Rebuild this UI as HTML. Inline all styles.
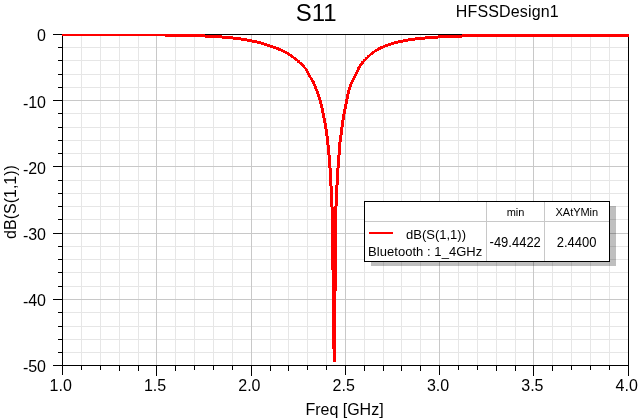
<!DOCTYPE html>
<html><head><meta charset="utf-8"><title>S11</title>
<style>
html,body{margin:0;padding:0;background:#fff;}
body{width:640px;height:420px;overflow:hidden;}
svg{display:block;}
text{font-family:"Liberation Sans",Arial,sans-serif;fill:#000;}
</style></head><body>
<svg width="640" height="420" viewBox="0 0 640 420">
<rect x="0" y="0" width="640" height="420" fill="#fff"/>
<g shape-rendering="crispEdges">
<rect x="81" y="35" width="1" height="330" fill="#e6e6e6"/>
<rect x="100" y="35" width="1" height="330" fill="#e6e6e6"/>
<rect x="119" y="35" width="1" height="330" fill="#e6e6e6"/>
<rect x="138" y="35" width="1" height="330" fill="#e6e6e6"/>
<rect x="175" y="35" width="1" height="330" fill="#e6e6e6"/>
<rect x="194" y="35" width="1" height="330" fill="#e6e6e6"/>
<rect x="213" y="35" width="1" height="330" fill="#e6e6e6"/>
<rect x="232" y="35" width="1" height="330" fill="#e6e6e6"/>
<rect x="270" y="35" width="1" height="330" fill="#e6e6e6"/>
<rect x="288" y="35" width="1" height="330" fill="#e6e6e6"/>
<rect x="307" y="35" width="1" height="330" fill="#e6e6e6"/>
<rect x="326" y="35" width="1" height="330" fill="#e6e6e6"/>
<rect x="364" y="35" width="1" height="330" fill="#e6e6e6"/>
<rect x="383" y="35" width="1" height="330" fill="#e6e6e6"/>
<rect x="401" y="35" width="1" height="330" fill="#e6e6e6"/>
<rect x="420" y="35" width="1" height="330" fill="#e6e6e6"/>
<rect x="458" y="35" width="1" height="330" fill="#e6e6e6"/>
<rect x="477" y="35" width="1" height="330" fill="#e6e6e6"/>
<rect x="496" y="35" width="1" height="330" fill="#e6e6e6"/>
<rect x="515" y="35" width="1" height="330" fill="#e6e6e6"/>
<rect x="552" y="35" width="1" height="330" fill="#e6e6e6"/>
<rect x="571" y="35" width="1" height="330" fill="#e6e6e6"/>
<rect x="590" y="35" width="1" height="330" fill="#e6e6e6"/>
<rect x="609" y="35" width="1" height="330" fill="#e6e6e6"/>
<rect x="63" y="47" width="565" height="1" fill="#e6e6e6"/>
<rect x="63" y="60" width="565" height="1" fill="#e6e6e6"/>
<rect x="63" y="74" width="565" height="1" fill="#e6e6e6"/>
<rect x="63" y="87" width="565" height="1" fill="#e6e6e6"/>
<rect x="63" y="113" width="565" height="1" fill="#e6e6e6"/>
<rect x="63" y="127" width="565" height="1" fill="#e6e6e6"/>
<rect x="63" y="140" width="565" height="1" fill="#e6e6e6"/>
<rect x="63" y="153" width="565" height="1" fill="#e6e6e6"/>
<rect x="63" y="180" width="565" height="1" fill="#e6e6e6"/>
<rect x="63" y="193" width="565" height="1" fill="#e6e6e6"/>
<rect x="63" y="206" width="565" height="1" fill="#e6e6e6"/>
<rect x="63" y="219" width="565" height="1" fill="#e6e6e6"/>
<rect x="63" y="246" width="565" height="1" fill="#e6e6e6"/>
<rect x="63" y="259" width="565" height="1" fill="#e6e6e6"/>
<rect x="63" y="272" width="565" height="1" fill="#e6e6e6"/>
<rect x="63" y="286" width="565" height="1" fill="#e6e6e6"/>
<rect x="63" y="312" width="565" height="1" fill="#e6e6e6"/>
<rect x="63" y="326" width="565" height="1" fill="#e6e6e6"/>
<rect x="63" y="339" width="565" height="1" fill="#e6e6e6"/>
<rect x="63" y="352" width="565" height="1" fill="#e6e6e6"/>
<rect x="156" y="35" width="1" height="330" fill="#c8c8c8"/>
<rect x="251" y="35" width="1" height="330" fill="#c8c8c8"/>
<rect x="345" y="35" width="1" height="330" fill="#c8c8c8"/>
<rect x="439" y="35" width="1" height="330" fill="#c8c8c8"/>
<rect x="533" y="35" width="1" height="330" fill="#c8c8c8"/>
<rect x="63" y="100" width="565" height="1" fill="#c8c8c8"/>
<rect x="63" y="166" width="565" height="1" fill="#c8c8c8"/>
<rect x="63" y="233" width="565" height="1" fill="#c8c8c8"/>
<rect x="63" y="299" width="565" height="1" fill="#c8c8c8"/>
</g>
<g shape-rendering="crispEdges">
<rect x="62" y="34" width="1" height="332" fill="#000"/>
<rect x="628" y="34" width="1" height="332" fill="#000"/>
<rect x="62" y="34" width="567" height="1" fill="#000"/>
<rect x="62" y="365" width="567" height="1" fill="#000"/>
<rect x="62" y="366" width="1" height="9" fill="#000"/>
<rect x="81" y="366" width="1" height="4" fill="#000"/>
<rect x="100" y="366" width="1" height="4" fill="#000"/>
<rect x="119" y="366" width="1" height="5" fill="#000"/>
<rect x="138" y="366" width="1" height="5" fill="#000"/>
<rect x="156" y="366" width="1" height="10" fill="#000"/>
<rect x="175" y="366" width="1" height="5" fill="#000"/>
<rect x="194" y="366" width="1" height="4" fill="#000"/>
<rect x="213" y="366" width="1" height="4" fill="#000"/>
<rect x="232" y="366" width="1" height="4" fill="#000"/>
<rect x="251" y="366" width="1" height="10" fill="#000"/>
<rect x="270" y="366" width="1" height="5" fill="#000"/>
<rect x="288" y="366" width="1" height="5" fill="#000"/>
<rect x="307" y="366" width="1" height="4" fill="#000"/>
<rect x="326" y="366" width="1" height="4" fill="#000"/>
<rect x="345" y="366" width="1" height="9" fill="#000"/>
<rect x="364" y="366" width="1" height="5" fill="#000"/>
<rect x="383" y="366" width="1" height="5" fill="#000"/>
<rect x="401" y="366" width="1" height="5" fill="#000"/>
<rect x="420" y="366" width="1" height="5" fill="#000"/>
<rect x="439" y="366" width="1" height="9" fill="#000"/>
<rect x="458" y="366" width="1" height="4" fill="#000"/>
<rect x="477" y="366" width="1" height="4" fill="#000"/>
<rect x="496" y="366" width="1" height="5" fill="#000"/>
<rect x="515" y="366" width="1" height="5" fill="#000"/>
<rect x="533" y="366" width="1" height="10" fill="#000"/>
<rect x="552" y="366" width="1" height="5" fill="#000"/>
<rect x="571" y="366" width="1" height="4" fill="#000"/>
<rect x="590" y="366" width="1" height="4" fill="#000"/>
<rect x="609" y="366" width="1" height="4" fill="#000"/>
<rect x="628" y="366" width="1" height="10" fill="#000"/>
<rect x="53" y="34" width="9" height="1" fill="#000"/>
<rect x="58" y="47" width="4" height="1" fill="#000"/>
<rect x="58" y="60" width="4" height="1" fill="#000"/>
<rect x="58" y="74" width="4" height="1" fill="#000"/>
<rect x="58" y="87" width="4" height="1" fill="#000"/>
<rect x="53" y="100" width="9" height="1" fill="#000"/>
<rect x="58" y="113" width="4" height="1" fill="#000"/>
<rect x="58" y="127" width="4" height="1" fill="#000"/>
<rect x="58" y="140" width="4" height="1" fill="#000"/>
<rect x="58" y="153" width="4" height="1" fill="#000"/>
<rect x="53" y="166" width="9" height="1" fill="#000"/>
<rect x="58" y="180" width="4" height="1" fill="#000"/>
<rect x="58" y="193" width="4" height="1" fill="#000"/>
<rect x="58" y="206" width="4" height="1" fill="#000"/>
<rect x="58" y="219" width="4" height="1" fill="#000"/>
<rect x="53" y="233" width="9" height="1" fill="#000"/>
<rect x="58" y="246" width="4" height="1" fill="#000"/>
<rect x="58" y="259" width="4" height="1" fill="#000"/>
<rect x="58" y="272" width="4" height="1" fill="#000"/>
<rect x="58" y="286" width="4" height="1" fill="#000"/>
<rect x="53" y="299" width="9" height="1" fill="#000"/>
<rect x="58" y="312" width="4" height="1" fill="#000"/>
<rect x="58" y="326" width="4" height="1" fill="#000"/>
<rect x="58" y="339" width="4" height="1" fill="#000"/>
<rect x="58" y="352" width="4" height="1" fill="#000"/>
<rect x="53" y="365" width="9" height="1" fill="#000"/>
</g>
<clipPath id="pc"><rect x="62" y="34" width="567" height="332"/></clipPath>
<path clip-path="url(#pc)" d="M62.00,33.00 L64.39,33.00 L64.39,36.00 L62.00,36.00ZM64.39,33.00 L66.27,33.00 L66.27,36.00 L64.39,36.00ZM66.27,33.00 L68.16,33.00 L68.16,36.00 L66.27,36.00ZM68.16,33.00 L70.05,33.00 L70.05,36.00 L68.16,36.00ZM70.05,33.00 L71.93,33.00 L71.93,36.00 L70.05,36.00ZM71.93,33.00 L73.82,33.00 L73.82,36.00 L71.93,36.00ZM73.82,33.00 L75.71,33.01 L75.71,36.01 L73.82,36.00ZM75.71,33.01 L77.59,33.01 L77.59,36.01 L75.71,36.01ZM77.59,33.01 L79.48,33.01 L79.48,36.01 L77.59,36.01ZM79.48,33.01 L81.37,33.01 L81.37,36.01 L79.48,36.01ZM81.37,33.01 L83.25,33.02 L83.25,36.02 L81.37,36.01ZM83.25,33.02 L85.14,33.02 L85.14,36.02 L83.25,36.02ZM85.14,33.02 L87.03,33.02 L87.03,36.02 L85.14,36.02ZM87.03,33.02 L88.91,33.02 L88.91,36.02 L87.03,36.02ZM88.91,33.02 L90.80,33.03 L90.80,36.03 L88.91,36.02ZM90.80,33.03 L92.69,33.03 L92.69,36.03 L90.80,36.03ZM92.69,33.03 L94.57,33.03 L94.57,36.03 L92.69,36.03ZM94.57,33.03 L96.46,33.04 L96.46,36.04 L94.57,36.03ZM96.46,33.04 L98.35,33.04 L98.35,36.04 L96.46,36.04ZM98.35,33.04 L100.23,33.05 L100.23,36.05 L98.35,36.04ZM100.23,33.05 L102.12,33.05 L102.12,36.05 L100.23,36.05ZM102.12,33.05 L104.01,33.06 L104.01,36.06 L102.12,36.05ZM104.01,33.06 L105.89,33.06 L105.89,36.06 L104.01,36.06ZM105.89,33.06 L107.78,33.07 L107.78,36.07 L105.89,36.06ZM107.78,33.07 L109.67,33.07 L109.67,36.07 L107.78,36.07ZM109.67,33.07 L111.55,33.08 L111.55,36.08 L109.67,36.07ZM111.55,33.08 L113.44,33.08 L113.44,36.08 L111.55,36.08ZM113.44,33.08 L115.33,33.09 L115.33,36.09 L113.44,36.08ZM115.33,33.09 L117.21,33.09 L117.21,36.09 L115.33,36.09ZM117.21,33.09 L119.10,33.10 L119.10,36.10 L117.21,36.09ZM119.10,33.10 L120.99,33.10 L120.99,36.10 L119.10,36.10ZM120.99,33.10 L122.87,33.11 L122.87,36.11 L120.99,36.10ZM122.87,33.11 L124.76,33.12 L124.76,36.12 L122.87,36.11ZM124.76,33.12 L126.65,33.13 L126.65,36.13 L124.76,36.12ZM126.65,33.13 L128.53,33.14 L128.53,36.14 L126.65,36.13ZM128.53,33.14 L130.42,33.15 L130.42,36.15 L128.53,36.14ZM130.42,33.15 L132.31,33.16 L132.31,36.16 L130.42,36.15ZM132.31,33.16 L134.19,33.17 L134.19,36.17 L132.31,36.16ZM134.19,33.17 L136.08,33.19 L136.08,36.19 L134.19,36.17ZM136.08,33.19 L137.97,33.20 L137.97,36.20 L136.08,36.19ZM137.97,33.20 L139.85,33.22 L139.85,36.22 L137.97,36.20ZM139.85,33.22 L141.74,33.24 L141.74,36.24 L139.85,36.22ZM141.74,33.24 L143.63,33.25 L143.63,36.25 L141.74,36.24ZM143.63,33.25 L145.51,33.27 L145.51,36.27 L143.63,36.25ZM145.51,33.27 L147.40,33.29 L147.40,36.29 L145.51,36.27ZM147.40,33.29 L149.29,33.31 L149.29,36.31 L147.40,36.29ZM149.29,33.31 L151.17,33.33 L151.17,36.33 L149.29,36.31ZM151.17,33.33 L153.06,33.35 L153.06,36.35 L151.17,36.33ZM153.06,33.35 L154.95,33.37 L154.95,36.37 L153.06,36.35ZM154.95,33.37 L156.83,33.40 L156.83,36.40 L154.95,36.37ZM156.83,33.40 L158.72,33.42 L158.72,36.42 L156.83,36.40ZM158.72,33.42 L160.61,33.44 L160.61,36.44 L158.72,36.42ZM160.61,33.44 L162.49,33.47 L162.49,36.47 L160.61,36.44ZM162.49,33.47 L164.38,33.49 L164.38,36.49 L162.49,36.47ZM164.38,33.49 L166.27,33.52 L166.27,36.52 L164.38,36.49ZM166.27,33.52 L168.15,33.54 L168.15,36.54 L166.27,36.52ZM168.15,33.54 L170.04,33.57 L170.04,36.57 L168.15,36.54ZM170.04,33.57 L171.93,33.61 L171.93,36.61 L170.04,36.57ZM171.93,33.61 L173.81,33.64 L173.81,36.64 L171.93,36.61ZM173.81,33.64 L175.70,33.67 L175.70,36.67 L173.81,36.64ZM175.70,33.67 L177.59,33.71 L177.59,36.71 L175.70,36.67ZM177.59,33.71 L179.47,33.75 L179.47,36.75 L177.59,36.71ZM179.47,33.75 L181.36,33.79 L181.36,36.79 L179.47,36.75ZM181.36,33.79 L183.25,33.84 L183.25,36.84 L181.36,36.79ZM183.25,33.84 L185.13,33.88 L185.13,36.88 L183.25,36.84ZM185.13,33.88 L187.02,33.93 L187.02,36.93 L185.13,36.88ZM187.02,33.93 L188.91,33.98 L188.91,36.98 L187.02,36.93ZM188.91,33.98 L190.79,34.04 L190.79,37.04 L188.91,36.98ZM190.79,34.04 L192.68,34.09 L192.68,37.09 L190.79,37.04ZM192.68,34.09 L194.57,34.15 L194.57,37.15 L192.68,37.09ZM194.57,34.15 L196.45,34.21 L196.45,37.21 L194.57,37.15ZM196.45,34.21 L198.34,34.27 L198.34,37.27 L196.45,37.21ZM198.34,34.27 L200.23,34.33 L200.23,37.33 L198.34,37.27ZM200.23,34.33 L202.11,34.40 L202.11,37.40 L200.23,37.33ZM202.11,34.40 L204.00,34.46 L204.00,37.46 L202.11,37.40ZM204.00,34.46 L205.89,34.54 L205.89,37.54 L204.00,37.46ZM205.89,34.54 L207.77,34.62 L207.77,37.62 L205.89,37.54ZM207.77,34.62 L209.66,34.72 L209.66,37.72 L207.77,37.62ZM209.66,34.72 L211.55,34.81 L211.55,37.81 L209.66,37.72ZM211.55,34.81 L213.43,34.92 L213.43,37.92 L211.55,37.81ZM213.43,34.92 L215.32,35.03 L215.32,38.03 L213.43,37.92ZM215.32,35.03 L217.21,35.15 L217.21,38.15 L215.32,38.03ZM217.21,35.15 L219.09,35.28 L219.09,38.28 L217.21,38.15ZM219.09,35.28 L220.98,35.41 L220.98,38.41 L219.09,38.28ZM220.98,35.41 L222.87,35.56 L222.87,38.56 L220.98,38.41ZM222.87,35.56 L224.75,35.71 L224.75,38.71 L222.87,38.56ZM224.75,35.71 L226.64,35.87 L226.64,38.87 L224.75,38.71ZM226.64,35.87 L228.53,36.05 L228.53,39.05 L226.64,38.87ZM228.53,36.05 L230.41,36.24 L230.41,39.24 L228.53,39.05ZM230.41,36.24 L232.30,36.44 L232.30,39.44 L230.41,39.24ZM232.30,36.44 L234.19,36.65 L234.19,39.65 L232.30,39.44ZM234.19,36.65 L236.07,36.88 L236.07,39.88 L234.19,39.65ZM236.07,36.88 L237.96,37.12 L237.96,40.12 L236.07,39.88ZM237.96,37.12 L239.85,37.37 L239.85,40.37 L237.96,40.12ZM239.85,37.37 L241.73,37.64 L241.73,40.64 L239.85,40.37ZM241.73,37.64 L243.62,37.93 L243.62,40.93 L241.73,40.64ZM243.62,37.93 L245.51,38.23 L245.51,41.23 L243.62,40.93ZM245.51,38.23 L247.39,38.56 L247.39,41.56 L245.51,41.23ZM247.39,38.56 L249.28,38.90 L249.28,41.90 L247.39,41.56ZM249.28,38.90 L251.17,39.26 L251.17,42.26 L249.28,41.90ZM251.17,39.26 L253.05,39.64 L253.05,42.64 L251.17,42.26ZM253.05,39.64 L254.94,40.04 L254.94,43.04 L253.05,42.64ZM254.94,40.04 L256.83,40.47 L256.83,43.47 L254.94,43.04ZM256.83,40.47 L258.71,40.94 L258.71,43.94 L256.83,43.47ZM258.71,40.94 L260.60,41.45 L260.60,44.45 L258.71,43.94ZM260.60,41.45 L262.49,42.00 L262.49,45.00 L260.60,44.45ZM262.49,42.00 L264.37,42.61 L264.37,45.61 L262.49,45.00ZM264.37,42.61 L266.26,43.23 L266.26,46.23 L264.37,45.61ZM266.26,43.23 L268.15,43.87 L268.15,46.87 L266.26,46.23ZM268.15,43.87 L270.03,44.51 L270.03,47.51 L268.15,46.87ZM270.03,44.51 L271.92,45.15 L271.92,48.15 L270.03,47.51ZM271.92,45.15 L273.81,45.81 L273.81,48.81 L271.92,48.15ZM273.81,45.81 L275.69,46.48 L275.69,49.48 L273.81,48.81ZM275.69,46.48 L277.58,47.18 L277.58,50.18 L275.69,49.48ZM277.58,47.18 L279.47,47.92 L279.47,50.92 L277.58,50.18ZM279.47,47.92 L281.35,48.72 L281.35,51.72 L279.47,50.92ZM281.35,48.72 L283.24,49.58 L283.24,52.58 L281.35,51.72ZM283.24,49.58 L285.13,50.51 L285.13,53.51 L283.24,52.58ZM285.13,50.51 L287.01,51.55 L287.01,54.55 L285.13,53.51ZM287.01,51.55 L288.90,52.71 L288.90,55.71 L287.01,54.55ZM288.90,52.71 L290.79,53.98 L290.79,56.98 L288.90,55.71ZM290.79,53.98 L292.67,55.34 L292.67,58.34 L290.79,56.98ZM292.67,55.34 L294.56,56.78 L294.56,59.78 L292.67,58.34ZM294.56,56.78 L296.45,58.29 L296.45,61.29 L294.56,59.78ZM296.45,58.29 L298.33,59.85 L298.33,62.85 L296.45,61.29ZM298.33,59.85 L300.22,61.44 L300.22,64.44 L298.33,62.85ZM300.22,61.44 L302.11,63.07 L302.11,66.07 L300.22,64.44ZM303.61,64.57 L305.49,66.50 L302.49,66.50 L300.61,64.57ZM305.49,66.50 L307.38,69.07 L304.38,69.07 L302.49,66.50ZM307.38,69.07 L309.27,72.62 L306.27,72.62 L304.38,69.07ZM309.27,72.62 L311.15,76.17 L308.15,76.17 L306.27,72.62ZM311.15,76.17 L313.04,79.03 L310.04,79.03 L308.15,76.17ZM313.04,79.03 L314.93,82.41 L311.93,82.41 L310.04,79.03ZM314.93,82.41 L316.81,86.66 L313.81,86.66 L311.93,82.41ZM316.81,86.66 L318.70,91.65 L315.70,91.65 L313.81,86.66ZM318.70,91.65 L320.59,97.25 L317.59,97.25 L315.70,91.65ZM320.59,97.25 L322.47,103.58 L319.47,103.58 L317.59,97.25ZM322.47,103.58 L324.36,111.99 L321.36,111.99 L319.47,103.58ZM324.36,111.99 L326.25,121.56 L323.25,121.56 L321.36,111.99ZM326.25,121.56 L328.13,132.90 L325.13,132.90 L323.25,121.56ZM328.13,132.90 L330.02,149.20 L327.02,149.20 L325.13,132.90ZM330.02,149.20 L331.91,173.00 L328.91,173.00 L327.02,149.20ZM331.91,173.00 L333.79,213.00 L330.79,213.00 L328.91,173.00ZM333.79,213.00 L335.68,361.80 L332.68,361.80 L330.79,213.00ZM332.68,361.80 L334.57,202.00 L337.57,202.00 L335.68,361.80ZM334.57,202.00 L336.45,168.50 L339.45,168.50 L337.57,202.00ZM336.45,168.50 L338.34,143.80 L341.34,143.80 L339.45,168.50ZM338.34,143.80 L340.23,129.00 L343.23,129.00 L341.34,143.80ZM340.23,129.00 L342.11,116.40 L345.11,116.40 L343.23,129.00ZM342.11,116.40 L344.00,106.60 L347.00,106.60 L345.11,116.40ZM344.00,106.60 L345.89,96.65 L348.89,96.65 L347.00,106.60ZM345.89,96.65 L347.77,89.22 L350.77,89.22 L348.89,96.65ZM347.77,89.22 L349.66,83.81 L352.66,83.81 L350.77,89.22ZM349.66,83.81 L351.55,79.59 L354.55,79.59 L352.66,83.81ZM351.55,79.59 L353.43,75.87 L356.43,75.87 L354.55,79.59ZM353.43,75.87 L355.32,72.11 L358.32,72.11 L356.43,75.87ZM355.32,72.11 L357.21,68.39 L360.21,68.39 L358.32,72.11ZM357.21,68.39 L359.09,65.19 L362.09,65.19 L360.21,68.39ZM359.09,65.19 L360.98,62.62 L363.98,62.62 L362.09,65.19ZM360.98,62.62 L362.87,60.43 L365.87,60.43 L363.98,62.62ZM362.87,60.43 L364.75,58.45 L367.75,58.45 L365.87,60.43ZM366.25,56.95 L368.14,55.13 L368.14,58.13 L366.25,59.95ZM368.14,55.13 L370.03,53.47 L370.03,56.47 L368.14,58.13ZM370.03,53.47 L371.91,51.96 L371.91,54.96 L370.03,56.47ZM371.91,51.96 L373.80,50.60 L373.80,53.60 L371.91,54.96ZM373.80,50.60 L375.69,49.38 L375.69,52.38 L373.80,53.60ZM375.69,49.38 L377.57,48.28 L377.57,51.28 L375.69,52.38ZM377.57,48.28 L379.46,46.99 L379.46,49.99 L377.57,51.28ZM379.46,46.99 L381.35,45.97 L381.35,48.97 L379.46,49.99ZM381.35,45.97 L383.23,45.31 L383.23,48.31 L381.35,48.97ZM383.23,45.31 L385.12,44.56 L385.12,47.56 L383.23,48.31ZM385.12,44.56 L387.01,43.83 L387.01,46.83 L385.12,47.56ZM387.01,43.83 L388.89,43.15 L388.89,46.15 L387.01,46.83ZM388.89,43.15 L390.78,42.52 L390.78,45.52 L388.89,46.15ZM390.78,42.52 L392.67,41.94 L392.67,44.94 L390.78,45.52ZM392.67,41.94 L394.55,41.40 L394.55,44.40 L392.67,44.94ZM394.55,41.40 L396.44,40.90 L396.44,43.90 L394.55,44.40ZM396.44,40.90 L398.33,40.43 L398.33,43.43 L396.44,43.90ZM398.33,40.43 L400.21,40.01 L400.21,43.01 L398.33,43.43ZM400.21,40.01 L402.10,39.61 L402.10,42.61 L400.21,43.01ZM402.10,39.61 L403.99,39.24 L403.99,42.24 L402.10,42.61ZM403.99,39.24 L405.87,38.90 L405.87,41.90 L403.99,42.24ZM405.87,38.90 L407.76,38.58 L407.76,41.58 L405.87,41.90ZM407.76,38.58 L409.65,38.28 L409.65,41.28 L407.76,41.58ZM409.65,38.28 L411.53,38.00 L411.53,41.00 L409.65,41.28ZM411.53,38.00 L413.42,37.74 L413.42,40.74 L411.53,41.00ZM413.42,37.74 L415.31,37.50 L415.31,40.50 L413.42,40.74ZM415.31,37.50 L417.19,37.27 L417.19,40.27 L415.31,40.50ZM417.19,37.27 L419.08,37.05 L419.08,40.05 L417.19,40.27ZM419.08,37.05 L420.97,36.85 L420.97,39.85 L419.08,40.05ZM420.97,36.85 L422.85,36.67 L422.85,39.67 L420.97,39.85ZM422.85,36.67 L424.74,36.49 L424.74,39.49 L422.85,39.67ZM424.74,36.49 L426.63,36.32 L426.63,39.32 L424.74,39.49ZM426.63,36.32 L428.51,36.17 L428.51,39.17 L426.63,39.32ZM428.51,36.17 L430.40,36.02 L430.40,39.02 L428.51,39.17ZM430.40,36.02 L432.29,35.88 L432.29,38.88 L430.40,39.02ZM432.29,35.88 L434.17,35.75 L434.17,38.75 L432.29,38.88ZM434.17,35.75 L436.06,35.63 L436.06,38.63 L434.17,38.75ZM436.06,35.63 L437.95,35.51 L437.95,38.51 L436.06,38.63ZM437.95,35.51 L439.83,35.40 L439.83,38.40 L437.95,38.51ZM439.83,35.40 L441.72,35.30 L441.72,38.30 L439.83,38.40ZM441.72,35.30 L443.61,35.20 L443.61,38.20 L441.72,38.30ZM443.61,35.20 L445.49,35.11 L445.49,38.11 L443.61,38.20ZM445.49,35.11 L447.38,35.03 L447.38,38.03 L445.49,38.11ZM447.38,35.03 L449.27,34.95 L449.27,37.95 L447.38,38.03ZM449.27,34.95 L451.15,34.87 L451.15,37.87 L449.27,37.95ZM451.15,34.87 L453.04,34.80 L453.04,37.80 L451.15,37.87ZM453.04,34.80 L454.93,34.73 L454.93,37.73 L453.04,37.80ZM454.93,34.73 L456.81,34.66 L456.81,37.66 L454.93,37.73ZM456.81,34.66 L458.70,34.60 L458.70,37.60 L456.81,37.66ZM458.70,34.60 L460.59,34.54 L460.59,37.54 L458.70,37.60ZM460.59,34.54 L462.47,34.50 L462.47,37.50 L460.59,37.54ZM462.47,34.50 L464.36,34.48 L464.36,37.48 L462.47,37.50ZM464.36,34.48 L466.25,34.46 L466.25,37.46 L464.36,37.48ZM466.25,34.46 L468.13,34.44 L468.13,37.44 L466.25,37.46ZM468.13,34.44 L470.02,34.42 L470.02,37.42 L468.13,37.44ZM470.02,34.42 L471.91,34.40 L471.91,37.40 L470.02,37.42ZM471.91,34.40 L473.79,34.39 L473.79,37.39 L471.91,37.40ZM473.79,34.39 L475.68,34.37 L475.68,37.37 L473.79,37.39ZM475.68,34.37 L477.57,34.36 L477.57,37.36 L475.68,37.37ZM477.57,34.36 L479.45,34.34 L479.45,37.34 L477.57,37.36ZM479.45,34.34 L481.34,34.33 L481.34,37.33 L479.45,37.34ZM481.34,34.33 L483.23,34.32 L483.23,37.32 L481.34,37.33ZM483.23,34.32 L485.11,34.30 L485.11,37.30 L483.23,37.32ZM485.11,34.30 L487.00,34.29 L487.00,37.29 L485.11,37.30ZM487.00,34.29 L488.89,34.28 L488.89,37.28 L487.00,37.29ZM488.89,34.28 L490.77,34.27 L490.77,37.27 L488.89,37.28ZM490.77,34.27 L492.66,34.26 L492.66,37.26 L490.77,37.27ZM492.66,34.26 L494.55,34.25 L494.55,37.25 L492.66,37.26ZM494.55,34.25 L496.43,34.24 L496.43,37.24 L494.55,37.25ZM496.43,34.24 L498.32,34.23 L498.32,37.23 L496.43,37.24ZM498.32,34.23 L500.21,34.22 L500.21,37.22 L498.32,37.23ZM500.21,34.22 L502.09,34.21 L502.09,37.21 L500.21,37.22ZM502.09,34.21 L503.98,34.20 L503.98,37.20 L502.09,37.21ZM503.98,34.20 L505.87,34.19 L505.87,37.19 L503.98,37.20ZM505.87,34.19 L507.75,34.19 L507.75,37.19 L505.87,37.19ZM507.75,34.19 L509.64,34.18 L509.64,37.18 L507.75,37.19ZM509.64,34.18 L511.53,34.17 L511.53,37.17 L509.64,37.18ZM511.53,34.17 L513.41,34.17 L513.41,37.17 L511.53,37.17ZM513.41,34.17 L515.30,34.16 L515.30,37.16 L513.41,37.17ZM515.30,34.16 L517.19,34.15 L517.19,37.15 L515.30,37.16ZM517.19,34.15 L519.07,34.15 L519.07,37.15 L517.19,37.15ZM519.07,34.15 L520.96,34.14 L520.96,37.14 L519.07,37.15ZM520.96,34.14 L522.85,34.14 L522.85,37.14 L520.96,37.14ZM522.85,34.14 L524.73,34.13 L524.73,37.13 L522.85,37.14ZM524.73,34.13 L526.62,34.13 L526.62,37.13 L524.73,37.13ZM526.62,34.13 L528.51,34.12 L528.51,37.12 L526.62,37.13ZM528.51,34.12 L530.39,34.12 L530.39,37.12 L528.51,37.12ZM530.39,34.12 L532.28,34.12 L532.28,37.12 L530.39,37.12ZM532.28,34.12 L534.17,34.11 L534.17,37.11 L532.28,37.12ZM534.17,34.11 L536.05,34.11 L536.05,37.11 L534.17,37.11ZM536.05,34.11 L537.94,34.10 L537.94,37.10 L536.05,37.11ZM537.94,34.10 L539.83,34.10 L539.83,37.10 L537.94,37.10ZM539.83,34.10 L541.71,34.10 L541.71,37.10 L539.83,37.10ZM541.71,34.10 L543.60,34.09 L543.60,37.09 L541.71,37.10ZM543.60,34.09 L545.49,34.09 L545.49,37.09 L543.60,37.09ZM545.49,34.09 L547.37,34.09 L547.37,37.09 L545.49,37.09ZM547.37,34.09 L549.26,34.08 L549.26,37.08 L547.37,37.09ZM549.26,34.08 L551.15,34.08 L551.15,37.08 L549.26,37.08ZM551.15,34.08 L553.03,34.08 L553.03,37.08 L551.15,37.08ZM553.03,34.08 L554.92,34.07 L554.92,37.07 L553.03,37.08ZM554.92,34.07 L556.81,34.07 L556.81,37.07 L554.92,37.07ZM556.81,34.07 L558.69,34.07 L558.69,37.07 L556.81,37.07ZM558.69,34.07 L560.58,34.06 L560.58,37.06 L558.69,37.07ZM560.58,34.06 L562.47,34.06 L562.47,37.06 L560.58,37.06ZM562.47,34.06 L564.35,34.06 L564.35,37.06 L562.47,37.06ZM564.35,34.06 L566.24,34.05 L566.24,37.05 L564.35,37.06ZM566.24,34.05 L568.13,34.05 L568.13,37.05 L566.24,37.05ZM568.13,34.05 L570.01,34.05 L570.01,37.05 L568.13,37.05ZM570.01,34.05 L571.90,34.05 L571.90,37.05 L570.01,37.05ZM571.90,34.05 L573.79,34.04 L573.79,37.04 L571.90,37.05ZM573.79,34.04 L575.67,34.04 L575.67,37.04 L573.79,37.04ZM575.67,34.04 L577.56,34.04 L577.56,37.04 L575.67,37.04ZM577.56,34.04 L579.45,34.04 L579.45,37.04 L577.56,37.04ZM579.45,34.04 L581.33,34.03 L581.33,37.03 L579.45,37.04ZM581.33,34.03 L583.22,34.03 L583.22,37.03 L581.33,37.03ZM583.22,34.03 L585.11,34.03 L585.11,37.03 L583.22,37.03ZM585.11,34.03 L586.99,34.03 L586.99,37.03 L585.11,37.03ZM586.99,34.03 L588.88,34.02 L588.88,37.02 L586.99,37.03ZM588.88,34.02 L590.77,34.02 L590.77,37.02 L588.88,37.02ZM590.77,34.02 L592.65,34.02 L592.65,37.02 L590.77,37.02ZM592.65,34.02 L594.54,34.02 L594.54,37.02 L592.65,37.02ZM594.54,34.02 L596.43,34.02 L596.43,37.02 L594.54,37.02ZM596.43,34.02 L598.31,34.01 L598.31,37.01 L596.43,37.02ZM598.31,34.01 L600.20,34.01 L600.20,37.01 L598.31,37.01ZM600.20,34.01 L602.09,34.01 L602.09,37.01 L600.20,37.01ZM602.09,34.01 L603.97,34.01 L603.97,37.01 L602.09,37.01ZM603.97,34.01 L605.86,34.01 L605.86,37.01 L603.97,37.01ZM605.86,34.01 L607.75,34.01 L607.75,37.01 L605.86,37.01ZM607.75,34.01 L609.63,34.01 L609.63,37.01 L607.75,37.01ZM609.63,34.01 L611.52,34.00 L611.52,37.00 L609.63,37.01ZM611.52,34.00 L613.41,34.00 L613.41,37.00 L611.52,37.00ZM613.41,34.00 L615.29,34.00 L615.29,37.00 L613.41,37.00ZM615.29,34.00 L617.18,34.00 L617.18,37.00 L615.29,37.00ZM617.18,34.00 L619.07,34.00 L619.07,37.00 L617.18,37.00ZM619.07,34.00 L620.95,34.00 L620.95,37.00 L619.07,37.00ZM620.95,34.00 L622.84,34.00 L622.84,37.00 L620.95,37.00ZM622.84,34.00 L624.73,34.00 L624.73,37.00 L622.84,37.00ZM624.73,34.00 L626.61,34.00 L626.61,37.00 L624.73,37.00ZM626.61,34.00 L628.50,34.00 L628.50,37.00 L626.61,37.00ZM62.89,34.50a1.5,1.5 0 1,1 3.00,0a1.5,1.5 0 1,1 -3.00,0ZM64.77,34.50a1.5,1.5 0 1,1 3.00,0a1.5,1.5 0 1,1 -3.00,0ZM66.66,34.50a1.5,1.5 0 1,1 3.00,0a1.5,1.5 0 1,1 -3.00,0ZM68.55,34.50a1.5,1.5 0 1,1 3.00,0a1.5,1.5 0 1,1 -3.00,0ZM70.43,34.50a1.5,1.5 0 1,1 3.00,0a1.5,1.5 0 1,1 -3.00,0ZM72.32,34.50a1.5,1.5 0 1,1 3.00,0a1.5,1.5 0 1,1 -3.00,0ZM74.21,34.51a1.5,1.5 0 1,1 3.00,0a1.5,1.5 0 1,1 -3.00,0ZM76.09,34.51a1.5,1.5 0 1,1 3.00,0a1.5,1.5 0 1,1 -3.00,0ZM77.98,34.51a1.5,1.5 0 1,1 3.00,0a1.5,1.5 0 1,1 -3.00,0ZM79.87,34.51a1.5,1.5 0 1,1 3.00,0a1.5,1.5 0 1,1 -3.00,0ZM81.75,34.52a1.5,1.5 0 1,1 3.00,0a1.5,1.5 0 1,1 -3.00,0ZM83.64,34.52a1.5,1.5 0 1,1 3.00,0a1.5,1.5 0 1,1 -3.00,0ZM85.53,34.52a1.5,1.5 0 1,1 3.00,0a1.5,1.5 0 1,1 -3.00,0ZM87.41,34.52a1.5,1.5 0 1,1 3.00,0a1.5,1.5 0 1,1 -3.00,0ZM89.30,34.53a1.5,1.5 0 1,1 3.00,0a1.5,1.5 0 1,1 -3.00,0ZM91.19,34.53a1.5,1.5 0 1,1 3.00,0a1.5,1.5 0 1,1 -3.00,0ZM93.07,34.53a1.5,1.5 0 1,1 3.00,0a1.5,1.5 0 1,1 -3.00,0ZM94.96,34.54a1.5,1.5 0 1,1 3.00,0a1.5,1.5 0 1,1 -3.00,0ZM96.85,34.54a1.5,1.5 0 1,1 3.00,0a1.5,1.5 0 1,1 -3.00,0ZM98.73,34.55a1.5,1.5 0 1,1 3.00,0a1.5,1.5 0 1,1 -3.00,0ZM100.62,34.55a1.5,1.5 0 1,1 3.00,0a1.5,1.5 0 1,1 -3.00,0ZM102.51,34.56a1.5,1.5 0 1,1 3.00,0a1.5,1.5 0 1,1 -3.00,0ZM104.39,34.56a1.5,1.5 0 1,1 3.00,0a1.5,1.5 0 1,1 -3.00,0ZM106.28,34.57a1.5,1.5 0 1,1 3.00,0a1.5,1.5 0 1,1 -3.00,0ZM108.17,34.57a1.5,1.5 0 1,1 3.00,0a1.5,1.5 0 1,1 -3.00,0ZM110.05,34.58a1.5,1.5 0 1,1 3.00,0a1.5,1.5 0 1,1 -3.00,0ZM111.94,34.58a1.5,1.5 0 1,1 3.00,0a1.5,1.5 0 1,1 -3.00,0ZM113.83,34.59a1.5,1.5 0 1,1 3.00,0a1.5,1.5 0 1,1 -3.00,0ZM115.71,34.59a1.5,1.5 0 1,1 3.00,0a1.5,1.5 0 1,1 -3.00,0ZM117.60,34.60a1.5,1.5 0 1,1 3.00,0a1.5,1.5 0 1,1 -3.00,0ZM119.49,34.60a1.5,1.5 0 1,1 3.00,0a1.5,1.5 0 1,1 -3.00,0ZM121.37,34.61a1.5,1.5 0 1,1 3.00,0a1.5,1.5 0 1,1 -3.00,0ZM123.26,34.62a1.5,1.5 0 1,1 3.00,0a1.5,1.5 0 1,1 -3.00,0ZM125.15,34.63a1.5,1.5 0 1,1 3.00,0a1.5,1.5 0 1,1 -3.00,0ZM127.03,34.64a1.5,1.5 0 1,1 3.00,0a1.5,1.5 0 1,1 -3.00,0ZM128.92,34.65a1.5,1.5 0 1,1 3.00,0a1.5,1.5 0 1,1 -3.00,0ZM130.81,34.66a1.5,1.5 0 1,1 3.00,0a1.5,1.5 0 1,1 -3.00,0ZM132.69,34.67a1.5,1.5 0 1,1 3.00,0a1.5,1.5 0 1,1 -3.00,0ZM134.58,34.69a1.5,1.5 0 1,1 3.00,0a1.5,1.5 0 1,1 -3.00,0ZM136.47,34.70a1.5,1.5 0 1,1 3.00,0a1.5,1.5 0 1,1 -3.00,0ZM138.35,34.72a1.5,1.5 0 1,1 3.00,0a1.5,1.5 0 1,1 -3.00,0ZM140.24,34.74a1.5,1.5 0 1,1 3.00,0a1.5,1.5 0 1,1 -3.00,0ZM142.13,34.75a1.5,1.5 0 1,1 3.00,0a1.5,1.5 0 1,1 -3.00,0ZM144.01,34.77a1.5,1.5 0 1,1 3.00,0a1.5,1.5 0 1,1 -3.00,0ZM145.90,34.79a1.5,1.5 0 1,1 3.00,0a1.5,1.5 0 1,1 -3.00,0ZM147.79,34.81a1.5,1.5 0 1,1 3.00,0a1.5,1.5 0 1,1 -3.00,0ZM149.67,34.83a1.5,1.5 0 1,1 3.00,0a1.5,1.5 0 1,1 -3.00,0ZM151.56,34.85a1.5,1.5 0 1,1 3.00,0a1.5,1.5 0 1,1 -3.00,0ZM153.45,34.87a1.5,1.5 0 1,1 3.00,0a1.5,1.5 0 1,1 -3.00,0ZM155.33,34.90a1.5,1.5 0 1,1 3.00,0a1.5,1.5 0 1,1 -3.00,0ZM157.22,34.92a1.5,1.5 0 1,1 3.00,0a1.5,1.5 0 1,1 -3.00,0ZM159.11,34.94a1.5,1.5 0 1,1 3.00,0a1.5,1.5 0 1,1 -3.00,0ZM160.99,34.97a1.5,1.5 0 1,1 3.00,0a1.5,1.5 0 1,1 -3.00,0ZM162.88,34.99a1.5,1.5 0 1,1 3.00,0a1.5,1.5 0 1,1 -3.00,0ZM164.77,35.02a1.5,1.5 0 1,1 3.00,0a1.5,1.5 0 1,1 -3.00,0ZM166.65,35.04a1.5,1.5 0 1,1 3.00,0a1.5,1.5 0 1,1 -3.00,0ZM168.54,35.07a1.5,1.5 0 1,1 3.00,0a1.5,1.5 0 1,1 -3.00,0ZM170.43,35.11a1.5,1.5 0 1,1 3.00,0a1.5,1.5 0 1,1 -3.00,0ZM172.31,35.14a1.5,1.5 0 1,1 3.00,0a1.5,1.5 0 1,1 -3.00,0ZM174.20,35.17a1.5,1.5 0 1,1 3.00,0a1.5,1.5 0 1,1 -3.00,0ZM176.09,35.21a1.5,1.5 0 1,1 3.00,0a1.5,1.5 0 1,1 -3.00,0ZM177.97,35.25a1.5,1.5 0 1,1 3.00,0a1.5,1.5 0 1,1 -3.00,0ZM179.86,35.29a1.5,1.5 0 1,1 3.00,0a1.5,1.5 0 1,1 -3.00,0ZM181.75,35.34a1.5,1.5 0 1,1 3.00,0a1.5,1.5 0 1,1 -3.00,0ZM183.63,35.38a1.5,1.5 0 1,1 3.00,0a1.5,1.5 0 1,1 -3.00,0ZM185.52,35.43a1.5,1.5 0 1,1 3.00,0a1.5,1.5 0 1,1 -3.00,0ZM187.41,35.48a1.5,1.5 0 1,1 3.00,0a1.5,1.5 0 1,1 -3.00,0ZM189.29,35.54a1.5,1.5 0 1,1 3.00,0a1.5,1.5 0 1,1 -3.00,0ZM191.18,35.59a1.5,1.5 0 1,1 3.00,0a1.5,1.5 0 1,1 -3.00,0ZM193.07,35.65a1.5,1.5 0 1,1 3.00,0a1.5,1.5 0 1,1 -3.00,0ZM194.95,35.71a1.5,1.5 0 1,1 3.00,0a1.5,1.5 0 1,1 -3.00,0ZM196.84,35.77a1.5,1.5 0 1,1 3.00,0a1.5,1.5 0 1,1 -3.00,0ZM198.73,35.83a1.5,1.5 0 1,1 3.00,0a1.5,1.5 0 1,1 -3.00,0ZM200.61,35.90a1.5,1.5 0 1,1 3.00,0a1.5,1.5 0 1,1 -3.00,0ZM202.50,35.96a1.5,1.5 0 1,1 3.00,0a1.5,1.5 0 1,1 -3.00,0ZM204.39,36.04a1.5,1.5 0 1,1 3.00,0a1.5,1.5 0 1,1 -3.00,0ZM206.27,36.12a1.5,1.5 0 1,1 3.00,0a1.5,1.5 0 1,1 -3.00,0ZM208.16,36.22a1.5,1.5 0 1,1 3.00,0a1.5,1.5 0 1,1 -3.00,0ZM210.05,36.31a1.5,1.5 0 1,1 3.00,0a1.5,1.5 0 1,1 -3.00,0ZM211.93,36.42a1.5,1.5 0 1,1 3.00,0a1.5,1.5 0 1,1 -3.00,0ZM213.82,36.53a1.5,1.5 0 1,1 3.00,0a1.5,1.5 0 1,1 -3.00,0ZM215.71,36.65a1.5,1.5 0 1,1 3.00,0a1.5,1.5 0 1,1 -3.00,0ZM217.59,36.78a1.5,1.5 0 1,1 3.00,0a1.5,1.5 0 1,1 -3.00,0ZM219.48,36.91a1.5,1.5 0 1,1 3.00,0a1.5,1.5 0 1,1 -3.00,0ZM221.37,37.06a1.5,1.5 0 1,1 3.00,0a1.5,1.5 0 1,1 -3.00,0ZM223.25,37.21a1.5,1.5 0 1,1 3.00,0a1.5,1.5 0 1,1 -3.00,0ZM225.14,37.37a1.5,1.5 0 1,1 3.00,0a1.5,1.5 0 1,1 -3.00,0ZM227.03,37.55a1.5,1.5 0 1,1 3.00,0a1.5,1.5 0 1,1 -3.00,0ZM228.91,37.74a1.5,1.5 0 1,1 3.00,0a1.5,1.5 0 1,1 -3.00,0ZM230.80,37.94a1.5,1.5 0 1,1 3.00,0a1.5,1.5 0 1,1 -3.00,0ZM232.69,38.15a1.5,1.5 0 1,1 3.00,0a1.5,1.5 0 1,1 -3.00,0ZM234.57,38.38a1.5,1.5 0 1,1 3.00,0a1.5,1.5 0 1,1 -3.00,0ZM236.46,38.62a1.5,1.5 0 1,1 3.00,0a1.5,1.5 0 1,1 -3.00,0ZM238.35,38.87a1.5,1.5 0 1,1 3.00,0a1.5,1.5 0 1,1 -3.00,0ZM240.23,39.14a1.5,1.5 0 1,1 3.00,0a1.5,1.5 0 1,1 -3.00,0ZM242.12,39.43a1.5,1.5 0 1,1 3.00,0a1.5,1.5 0 1,1 -3.00,0ZM244.01,39.73a1.5,1.5 0 1,1 3.00,0a1.5,1.5 0 1,1 -3.00,0ZM245.89,40.06a1.5,1.5 0 1,1 3.00,0a1.5,1.5 0 1,1 -3.00,0ZM247.78,40.40a1.5,1.5 0 1,1 3.00,0a1.5,1.5 0 1,1 -3.00,0ZM249.67,40.76a1.5,1.5 0 1,1 3.00,0a1.5,1.5 0 1,1 -3.00,0ZM251.55,41.14a1.5,1.5 0 1,1 3.00,0a1.5,1.5 0 1,1 -3.00,0ZM253.44,41.54a1.5,1.5 0 1,1 3.00,0a1.5,1.5 0 1,1 -3.00,0ZM255.33,41.97a1.5,1.5 0 1,1 3.00,0a1.5,1.5 0 1,1 -3.00,0ZM257.21,42.44a1.5,1.5 0 1,1 3.00,0a1.5,1.5 0 1,1 -3.00,0ZM259.10,42.95a1.5,1.5 0 1,1 3.00,0a1.5,1.5 0 1,1 -3.00,0ZM260.99,43.50a1.5,1.5 0 1,1 3.00,0a1.5,1.5 0 1,1 -3.00,0ZM262.87,44.11a1.5,1.5 0 1,1 3.00,0a1.5,1.5 0 1,1 -3.00,0ZM264.76,44.73a1.5,1.5 0 1,1 3.00,0a1.5,1.5 0 1,1 -3.00,0ZM266.65,45.37a1.5,1.5 0 1,1 3.00,0a1.5,1.5 0 1,1 -3.00,0ZM268.53,46.01a1.5,1.5 0 1,1 3.00,0a1.5,1.5 0 1,1 -3.00,0ZM270.42,46.65a1.5,1.5 0 1,1 3.00,0a1.5,1.5 0 1,1 -3.00,0ZM272.31,47.31a1.5,1.5 0 1,1 3.00,0a1.5,1.5 0 1,1 -3.00,0ZM274.19,47.98a1.5,1.5 0 1,1 3.00,0a1.5,1.5 0 1,1 -3.00,0ZM276.08,48.68a1.5,1.5 0 1,1 3.00,0a1.5,1.5 0 1,1 -3.00,0ZM277.97,49.42a1.5,1.5 0 1,1 3.00,0a1.5,1.5 0 1,1 -3.00,0ZM279.85,50.22a1.5,1.5 0 1,1 3.00,0a1.5,1.5 0 1,1 -3.00,0ZM281.74,51.08a1.5,1.5 0 1,1 3.00,0a1.5,1.5 0 1,1 -3.00,0ZM283.63,52.01a1.5,1.5 0 1,1 3.00,0a1.5,1.5 0 1,1 -3.00,0ZM285.51,53.05a1.5,1.5 0 1,1 3.00,0a1.5,1.5 0 1,1 -3.00,0ZM287.40,54.21a1.5,1.5 0 1,1 3.00,0a1.5,1.5 0 1,1 -3.00,0ZM289.29,55.48a1.5,1.5 0 1,1 3.00,0a1.5,1.5 0 1,1 -3.00,0ZM291.17,56.84a1.5,1.5 0 1,1 3.00,0a1.5,1.5 0 1,1 -3.00,0ZM293.06,58.28a1.5,1.5 0 1,1 3.00,0a1.5,1.5 0 1,1 -3.00,0ZM294.95,59.79a1.5,1.5 0 1,1 3.00,0a1.5,1.5 0 1,1 -3.00,0ZM296.83,61.35a1.5,1.5 0 1,1 3.00,0a1.5,1.5 0 1,1 -3.00,0ZM298.72,62.94a1.5,1.5 0 1,1 3.00,0a1.5,1.5 0 1,1 -3.00,0ZM300.61,64.57a1.5,1.5 0 1,1 3.00,0a1.5,1.5 0 1,1 -3.00,0ZM302.49,66.50a1.5,1.5 0 1,1 3.00,0a1.5,1.5 0 1,1 -3.00,0ZM304.38,69.07a1.5,1.5 0 1,1 3.00,0a1.5,1.5 0 1,1 -3.00,0ZM306.27,72.62a1.5,1.5 0 1,1 3.00,0a1.5,1.5 0 1,1 -3.00,0ZM308.15,76.17a1.5,1.5 0 1,1 3.00,0a1.5,1.5 0 1,1 -3.00,0ZM310.04,79.03a1.5,1.5 0 1,1 3.00,0a1.5,1.5 0 1,1 -3.00,0ZM311.93,82.41a1.5,1.5 0 1,1 3.00,0a1.5,1.5 0 1,1 -3.00,0ZM313.81,86.66a1.5,1.5 0 1,1 3.00,0a1.5,1.5 0 1,1 -3.00,0ZM315.70,91.65a1.5,1.5 0 1,1 3.00,0a1.5,1.5 0 1,1 -3.00,0ZM317.59,97.25a1.5,1.5 0 1,1 3.00,0a1.5,1.5 0 1,1 -3.00,0ZM319.47,103.58a1.5,1.5 0 1,1 3.00,0a1.5,1.5 0 1,1 -3.00,0ZM321.36,111.99a1.5,1.5 0 1,1 3.00,0a1.5,1.5 0 1,1 -3.00,0ZM323.25,121.56a1.5,1.5 0 1,1 3.00,0a1.5,1.5 0 1,1 -3.00,0ZM325.13,132.90a1.5,1.5 0 1,1 3.00,0a1.5,1.5 0 1,1 -3.00,0ZM327.02,149.20a1.5,1.5 0 1,1 3.00,0a1.5,1.5 0 1,1 -3.00,0ZM328.91,173.00a1.5,1.5 0 1,1 3.00,0a1.5,1.5 0 1,1 -3.00,0ZM330.79,213.00a1.5,1.5 0 1,1 3.00,0a1.5,1.5 0 1,1 -3.00,0ZM334.57,202.00a1.5,1.5 0 1,1 3.00,0a1.5,1.5 0 1,1 -3.00,0ZM336.45,168.50a1.5,1.5 0 1,1 3.00,0a1.5,1.5 0 1,1 -3.00,0ZM338.34,143.80a1.5,1.5 0 1,1 3.00,0a1.5,1.5 0 1,1 -3.00,0ZM340.23,129.00a1.5,1.5 0 1,1 3.00,0a1.5,1.5 0 1,1 -3.00,0ZM342.11,116.40a1.5,1.5 0 1,1 3.00,0a1.5,1.5 0 1,1 -3.00,0ZM344.00,106.60a1.5,1.5 0 1,1 3.00,0a1.5,1.5 0 1,1 -3.00,0ZM345.89,96.65a1.5,1.5 0 1,1 3.00,0a1.5,1.5 0 1,1 -3.00,0ZM347.77,89.22a1.5,1.5 0 1,1 3.00,0a1.5,1.5 0 1,1 -3.00,0ZM349.66,83.81a1.5,1.5 0 1,1 3.00,0a1.5,1.5 0 1,1 -3.00,0ZM351.55,79.59a1.5,1.5 0 1,1 3.00,0a1.5,1.5 0 1,1 -3.00,0ZM353.43,75.87a1.5,1.5 0 1,1 3.00,0a1.5,1.5 0 1,1 -3.00,0ZM355.32,72.11a1.5,1.5 0 1,1 3.00,0a1.5,1.5 0 1,1 -3.00,0ZM357.21,68.39a1.5,1.5 0 1,1 3.00,0a1.5,1.5 0 1,1 -3.00,0ZM359.09,65.19a1.5,1.5 0 1,1 3.00,0a1.5,1.5 0 1,1 -3.00,0ZM360.98,62.62a1.5,1.5 0 1,1 3.00,0a1.5,1.5 0 1,1 -3.00,0ZM362.87,60.43a1.5,1.5 0 1,1 3.00,0a1.5,1.5 0 1,1 -3.00,0ZM364.75,58.45a1.5,1.5 0 1,1 3.00,0a1.5,1.5 0 1,1 -3.00,0ZM366.64,56.63a1.5,1.5 0 1,1 3.00,0a1.5,1.5 0 1,1 -3.00,0ZM368.53,54.97a1.5,1.5 0 1,1 3.00,0a1.5,1.5 0 1,1 -3.00,0ZM370.41,53.46a1.5,1.5 0 1,1 3.00,0a1.5,1.5 0 1,1 -3.00,0ZM372.30,52.10a1.5,1.5 0 1,1 3.00,0a1.5,1.5 0 1,1 -3.00,0ZM374.19,50.88a1.5,1.5 0 1,1 3.00,0a1.5,1.5 0 1,1 -3.00,0ZM376.07,49.78a1.5,1.5 0 1,1 3.00,0a1.5,1.5 0 1,1 -3.00,0ZM377.96,48.49a1.5,1.5 0 1,1 3.00,0a1.5,1.5 0 1,1 -3.00,0ZM379.85,47.47a1.5,1.5 0 1,1 3.00,0a1.5,1.5 0 1,1 -3.00,0ZM381.73,46.81a1.5,1.5 0 1,1 3.00,0a1.5,1.5 0 1,1 -3.00,0ZM383.62,46.06a1.5,1.5 0 1,1 3.00,0a1.5,1.5 0 1,1 -3.00,0ZM385.51,45.33a1.5,1.5 0 1,1 3.00,0a1.5,1.5 0 1,1 -3.00,0ZM387.39,44.65a1.5,1.5 0 1,1 3.00,0a1.5,1.5 0 1,1 -3.00,0ZM389.28,44.02a1.5,1.5 0 1,1 3.00,0a1.5,1.5 0 1,1 -3.00,0ZM391.17,43.44a1.5,1.5 0 1,1 3.00,0a1.5,1.5 0 1,1 -3.00,0ZM393.05,42.90a1.5,1.5 0 1,1 3.00,0a1.5,1.5 0 1,1 -3.00,0ZM394.94,42.40a1.5,1.5 0 1,1 3.00,0a1.5,1.5 0 1,1 -3.00,0ZM396.83,41.93a1.5,1.5 0 1,1 3.00,0a1.5,1.5 0 1,1 -3.00,0ZM398.71,41.51a1.5,1.5 0 1,1 3.00,0a1.5,1.5 0 1,1 -3.00,0ZM400.60,41.11a1.5,1.5 0 1,1 3.00,0a1.5,1.5 0 1,1 -3.00,0ZM402.49,40.74a1.5,1.5 0 1,1 3.00,0a1.5,1.5 0 1,1 -3.00,0ZM404.37,40.40a1.5,1.5 0 1,1 3.00,0a1.5,1.5 0 1,1 -3.00,0ZM406.26,40.08a1.5,1.5 0 1,1 3.00,0a1.5,1.5 0 1,1 -3.00,0ZM408.15,39.78a1.5,1.5 0 1,1 3.00,0a1.5,1.5 0 1,1 -3.00,0ZM410.03,39.50a1.5,1.5 0 1,1 3.00,0a1.5,1.5 0 1,1 -3.00,0ZM411.92,39.24a1.5,1.5 0 1,1 3.00,0a1.5,1.5 0 1,1 -3.00,0ZM413.81,39.00a1.5,1.5 0 1,1 3.00,0a1.5,1.5 0 1,1 -3.00,0ZM415.69,38.77a1.5,1.5 0 1,1 3.00,0a1.5,1.5 0 1,1 -3.00,0ZM417.58,38.55a1.5,1.5 0 1,1 3.00,0a1.5,1.5 0 1,1 -3.00,0ZM419.47,38.35a1.5,1.5 0 1,1 3.00,0a1.5,1.5 0 1,1 -3.00,0ZM421.35,38.17a1.5,1.5 0 1,1 3.00,0a1.5,1.5 0 1,1 -3.00,0ZM423.24,37.99a1.5,1.5 0 1,1 3.00,0a1.5,1.5 0 1,1 -3.00,0ZM425.13,37.82a1.5,1.5 0 1,1 3.00,0a1.5,1.5 0 1,1 -3.00,0ZM427.01,37.67a1.5,1.5 0 1,1 3.00,0a1.5,1.5 0 1,1 -3.00,0ZM428.90,37.52a1.5,1.5 0 1,1 3.00,0a1.5,1.5 0 1,1 -3.00,0ZM430.79,37.38a1.5,1.5 0 1,1 3.00,0a1.5,1.5 0 1,1 -3.00,0ZM432.67,37.25a1.5,1.5 0 1,1 3.00,0a1.5,1.5 0 1,1 -3.00,0ZM434.56,37.13a1.5,1.5 0 1,1 3.00,0a1.5,1.5 0 1,1 -3.00,0ZM436.45,37.01a1.5,1.5 0 1,1 3.00,0a1.5,1.5 0 1,1 -3.00,0ZM438.33,36.90a1.5,1.5 0 1,1 3.00,0a1.5,1.5 0 1,1 -3.00,0ZM440.22,36.80a1.5,1.5 0 1,1 3.00,0a1.5,1.5 0 1,1 -3.00,0ZM442.11,36.70a1.5,1.5 0 1,1 3.00,0a1.5,1.5 0 1,1 -3.00,0ZM443.99,36.61a1.5,1.5 0 1,1 3.00,0a1.5,1.5 0 1,1 -3.00,0ZM445.88,36.53a1.5,1.5 0 1,1 3.00,0a1.5,1.5 0 1,1 -3.00,0ZM447.77,36.45a1.5,1.5 0 1,1 3.00,0a1.5,1.5 0 1,1 -3.00,0ZM449.65,36.37a1.5,1.5 0 1,1 3.00,0a1.5,1.5 0 1,1 -3.00,0ZM451.54,36.30a1.5,1.5 0 1,1 3.00,0a1.5,1.5 0 1,1 -3.00,0ZM453.43,36.23a1.5,1.5 0 1,1 3.00,0a1.5,1.5 0 1,1 -3.00,0ZM455.31,36.16a1.5,1.5 0 1,1 3.00,0a1.5,1.5 0 1,1 -3.00,0ZM457.20,36.10a1.5,1.5 0 1,1 3.00,0a1.5,1.5 0 1,1 -3.00,0ZM459.09,36.04a1.5,1.5 0 1,1 3.00,0a1.5,1.5 0 1,1 -3.00,0ZM460.97,36.00a1.5,1.5 0 1,1 3.00,0a1.5,1.5 0 1,1 -3.00,0ZM462.86,35.98a1.5,1.5 0 1,1 3.00,0a1.5,1.5 0 1,1 -3.00,0ZM464.75,35.96a1.5,1.5 0 1,1 3.00,0a1.5,1.5 0 1,1 -3.00,0ZM466.63,35.94a1.5,1.5 0 1,1 3.00,0a1.5,1.5 0 1,1 -3.00,0ZM468.52,35.92a1.5,1.5 0 1,1 3.00,0a1.5,1.5 0 1,1 -3.00,0ZM470.41,35.90a1.5,1.5 0 1,1 3.00,0a1.5,1.5 0 1,1 -3.00,0ZM472.29,35.89a1.5,1.5 0 1,1 3.00,0a1.5,1.5 0 1,1 -3.00,0ZM474.18,35.87a1.5,1.5 0 1,1 3.00,0a1.5,1.5 0 1,1 -3.00,0ZM476.07,35.86a1.5,1.5 0 1,1 3.00,0a1.5,1.5 0 1,1 -3.00,0ZM477.95,35.84a1.5,1.5 0 1,1 3.00,0a1.5,1.5 0 1,1 -3.00,0ZM479.84,35.83a1.5,1.5 0 1,1 3.00,0a1.5,1.5 0 1,1 -3.00,0ZM481.73,35.82a1.5,1.5 0 1,1 3.00,0a1.5,1.5 0 1,1 -3.00,0ZM483.61,35.80a1.5,1.5 0 1,1 3.00,0a1.5,1.5 0 1,1 -3.00,0ZM485.50,35.79a1.5,1.5 0 1,1 3.00,0a1.5,1.5 0 1,1 -3.00,0ZM487.39,35.78a1.5,1.5 0 1,1 3.00,0a1.5,1.5 0 1,1 -3.00,0ZM489.27,35.77a1.5,1.5 0 1,1 3.00,0a1.5,1.5 0 1,1 -3.00,0ZM491.16,35.76a1.5,1.5 0 1,1 3.00,0a1.5,1.5 0 1,1 -3.00,0ZM493.05,35.75a1.5,1.5 0 1,1 3.00,0a1.5,1.5 0 1,1 -3.00,0ZM494.93,35.74a1.5,1.5 0 1,1 3.00,0a1.5,1.5 0 1,1 -3.00,0ZM496.82,35.73a1.5,1.5 0 1,1 3.00,0a1.5,1.5 0 1,1 -3.00,0ZM498.71,35.72a1.5,1.5 0 1,1 3.00,0a1.5,1.5 0 1,1 -3.00,0ZM500.59,35.71a1.5,1.5 0 1,1 3.00,0a1.5,1.5 0 1,1 -3.00,0ZM502.48,35.70a1.5,1.5 0 1,1 3.00,0a1.5,1.5 0 1,1 -3.00,0ZM504.37,35.69a1.5,1.5 0 1,1 3.00,0a1.5,1.5 0 1,1 -3.00,0ZM506.25,35.69a1.5,1.5 0 1,1 3.00,0a1.5,1.5 0 1,1 -3.00,0ZM508.14,35.68a1.5,1.5 0 1,1 3.00,0a1.5,1.5 0 1,1 -3.00,0ZM510.03,35.67a1.5,1.5 0 1,1 3.00,0a1.5,1.5 0 1,1 -3.00,0ZM511.91,35.67a1.5,1.5 0 1,1 3.00,0a1.5,1.5 0 1,1 -3.00,0ZM513.80,35.66a1.5,1.5 0 1,1 3.00,0a1.5,1.5 0 1,1 -3.00,0ZM515.69,35.65a1.5,1.5 0 1,1 3.00,0a1.5,1.5 0 1,1 -3.00,0ZM517.57,35.65a1.5,1.5 0 1,1 3.00,0a1.5,1.5 0 1,1 -3.00,0ZM519.46,35.64a1.5,1.5 0 1,1 3.00,0a1.5,1.5 0 1,1 -3.00,0ZM521.35,35.64a1.5,1.5 0 1,1 3.00,0a1.5,1.5 0 1,1 -3.00,0ZM523.23,35.63a1.5,1.5 0 1,1 3.00,0a1.5,1.5 0 1,1 -3.00,0ZM525.12,35.63a1.5,1.5 0 1,1 3.00,0a1.5,1.5 0 1,1 -3.00,0ZM527.01,35.62a1.5,1.5 0 1,1 3.00,0a1.5,1.5 0 1,1 -3.00,0ZM528.89,35.62a1.5,1.5 0 1,1 3.00,0a1.5,1.5 0 1,1 -3.00,0ZM530.78,35.62a1.5,1.5 0 1,1 3.00,0a1.5,1.5 0 1,1 -3.00,0ZM532.67,35.61a1.5,1.5 0 1,1 3.00,0a1.5,1.5 0 1,1 -3.00,0ZM534.55,35.61a1.5,1.5 0 1,1 3.00,0a1.5,1.5 0 1,1 -3.00,0ZM536.44,35.60a1.5,1.5 0 1,1 3.00,0a1.5,1.5 0 1,1 -3.00,0ZM538.33,35.60a1.5,1.5 0 1,1 3.00,0a1.5,1.5 0 1,1 -3.00,0ZM540.21,35.60a1.5,1.5 0 1,1 3.00,0a1.5,1.5 0 1,1 -3.00,0ZM542.10,35.59a1.5,1.5 0 1,1 3.00,0a1.5,1.5 0 1,1 -3.00,0ZM543.99,35.59a1.5,1.5 0 1,1 3.00,0a1.5,1.5 0 1,1 -3.00,0ZM545.87,35.59a1.5,1.5 0 1,1 3.00,0a1.5,1.5 0 1,1 -3.00,0ZM547.76,35.58a1.5,1.5 0 1,1 3.00,0a1.5,1.5 0 1,1 -3.00,0ZM549.65,35.58a1.5,1.5 0 1,1 3.00,0a1.5,1.5 0 1,1 -3.00,0ZM551.53,35.58a1.5,1.5 0 1,1 3.00,0a1.5,1.5 0 1,1 -3.00,0ZM553.42,35.57a1.5,1.5 0 1,1 3.00,0a1.5,1.5 0 1,1 -3.00,0ZM555.31,35.57a1.5,1.5 0 1,1 3.00,0a1.5,1.5 0 1,1 -3.00,0ZM557.19,35.57a1.5,1.5 0 1,1 3.00,0a1.5,1.5 0 1,1 -3.00,0ZM559.08,35.56a1.5,1.5 0 1,1 3.00,0a1.5,1.5 0 1,1 -3.00,0ZM560.97,35.56a1.5,1.5 0 1,1 3.00,0a1.5,1.5 0 1,1 -3.00,0ZM562.85,35.56a1.5,1.5 0 1,1 3.00,0a1.5,1.5 0 1,1 -3.00,0ZM564.74,35.55a1.5,1.5 0 1,1 3.00,0a1.5,1.5 0 1,1 -3.00,0ZM566.63,35.55a1.5,1.5 0 1,1 3.00,0a1.5,1.5 0 1,1 -3.00,0ZM568.51,35.55a1.5,1.5 0 1,1 3.00,0a1.5,1.5 0 1,1 -3.00,0ZM570.40,35.55a1.5,1.5 0 1,1 3.00,0a1.5,1.5 0 1,1 -3.00,0ZM572.29,35.54a1.5,1.5 0 1,1 3.00,0a1.5,1.5 0 1,1 -3.00,0ZM574.17,35.54a1.5,1.5 0 1,1 3.00,0a1.5,1.5 0 1,1 -3.00,0ZM576.06,35.54a1.5,1.5 0 1,1 3.00,0a1.5,1.5 0 1,1 -3.00,0ZM577.95,35.54a1.5,1.5 0 1,1 3.00,0a1.5,1.5 0 1,1 -3.00,0ZM579.83,35.53a1.5,1.5 0 1,1 3.00,0a1.5,1.5 0 1,1 -3.00,0ZM581.72,35.53a1.5,1.5 0 1,1 3.00,0a1.5,1.5 0 1,1 -3.00,0ZM583.61,35.53a1.5,1.5 0 1,1 3.00,0a1.5,1.5 0 1,1 -3.00,0ZM585.49,35.53a1.5,1.5 0 1,1 3.00,0a1.5,1.5 0 1,1 -3.00,0ZM587.38,35.52a1.5,1.5 0 1,1 3.00,0a1.5,1.5 0 1,1 -3.00,0ZM589.27,35.52a1.5,1.5 0 1,1 3.00,0a1.5,1.5 0 1,1 -3.00,0ZM591.15,35.52a1.5,1.5 0 1,1 3.00,0a1.5,1.5 0 1,1 -3.00,0ZM593.04,35.52a1.5,1.5 0 1,1 3.00,0a1.5,1.5 0 1,1 -3.00,0ZM594.93,35.52a1.5,1.5 0 1,1 3.00,0a1.5,1.5 0 1,1 -3.00,0ZM596.81,35.51a1.5,1.5 0 1,1 3.00,0a1.5,1.5 0 1,1 -3.00,0ZM598.70,35.51a1.5,1.5 0 1,1 3.00,0a1.5,1.5 0 1,1 -3.00,0ZM600.59,35.51a1.5,1.5 0 1,1 3.00,0a1.5,1.5 0 1,1 -3.00,0ZM602.47,35.51a1.5,1.5 0 1,1 3.00,0a1.5,1.5 0 1,1 -3.00,0ZM604.36,35.51a1.5,1.5 0 1,1 3.00,0a1.5,1.5 0 1,1 -3.00,0ZM606.25,35.51a1.5,1.5 0 1,1 3.00,0a1.5,1.5 0 1,1 -3.00,0ZM608.13,35.51a1.5,1.5 0 1,1 3.00,0a1.5,1.5 0 1,1 -3.00,0ZM610.02,35.50a1.5,1.5 0 1,1 3.00,0a1.5,1.5 0 1,1 -3.00,0ZM611.91,35.50a1.5,1.5 0 1,1 3.00,0a1.5,1.5 0 1,1 -3.00,0ZM613.79,35.50a1.5,1.5 0 1,1 3.00,0a1.5,1.5 0 1,1 -3.00,0ZM615.68,35.50a1.5,1.5 0 1,1 3.00,0a1.5,1.5 0 1,1 -3.00,0ZM617.57,35.50a1.5,1.5 0 1,1 3.00,0a1.5,1.5 0 1,1 -3.00,0ZM619.45,35.50a1.5,1.5 0 1,1 3.00,0a1.5,1.5 0 1,1 -3.00,0ZM621.34,35.50a1.5,1.5 0 1,1 3.00,0a1.5,1.5 0 1,1 -3.00,0ZM623.23,35.50a1.5,1.5 0 1,1 3.00,0a1.5,1.5 0 1,1 -3.00,0ZM625.11,35.50a1.5,1.5 0 1,1 3.00,0a1.5,1.5 0 1,1 -3.00,0Z" fill="#ff0000" fill-rule="nonzero" shape-rendering="crispEdges"/>
<g font-size="16">
<text x="60.70" y="391" text-anchor="middle">1.0</text>
<text x="155.03" y="391" text-anchor="middle">1.5</text>
<text x="249.37" y="391" text-anchor="middle">2.0</text>
<text x="343.70" y="391" text-anchor="middle">2.5</text>
<text x="438.03" y="391" text-anchor="middle">3.0</text>
<text x="532.37" y="391" text-anchor="middle">3.5</text>
<text x="626.70" y="391" text-anchor="middle">4.0</text>
<text x="46" y="40.5" text-anchor="end">0</text>
<text x="46" y="107.5" text-anchor="end"><tspan dy="1">-</tspan><tspan dy="-1">10</tspan></text>
<text x="46" y="173.5" text-anchor="end"><tspan dy="1">-</tspan><tspan dy="-1">20</tspan></text>
<text x="46" y="239.5" text-anchor="end"><tspan dy="1">-</tspan><tspan dy="-1">30</tspan></text>
<text x="46" y="305.5" text-anchor="end"><tspan dy="1">-</tspan><tspan dy="-1">40</tspan></text>
<text x="46" y="371.5" text-anchor="end"><tspan dy="1">-</tspan><tspan dy="-1">50</tspan></text>
<text x="344.5" y="415" text-anchor="middle">Freq [GHz]</text>
<text transform="translate(16,202) rotate(-90)" text-anchor="middle" font-size="16">dB(S(1,1))</text>
<text x="455.8" y="16.5" font-size="16" letter-spacing="0.15">HFSSDesign1</text>
</g>
<text x="316.2" y="21" font-size="24" text-anchor="middle">S11</text>
<!-- legend -->
<g shape-rendering="crispEdges">
<rect x="371" y="206" width="245" height="60" fill="#000" fill-opacity="0.25"/>
<rect x="364" y="201" width="246" height="61" fill="#fff"/>
<rect x="365" y="221" width="244" height="1" fill="#c8c8c8"/>
<rect x="486" y="202" width="1" height="59" fill="#c8c8c8"/>
<rect x="544" y="202" width="1" height="59" fill="#c8c8c8"/>
<rect x="364" y="201" width="246" height="1" fill="#000"/>
<rect x="364" y="261" width="246" height="1" fill="#000"/>
<rect x="364" y="201" width="1" height="61" fill="#000"/>
<rect x="609" y="201" width="1" height="61" fill="#000"/>
<rect x="369" y="232" width="24" height="2" fill="#ff0000"/>
</g>
<g font-size="11">
<text x="515.5" y="216" text-anchor="middle">min</text>
<text x="576.8" y="216" text-anchor="middle" letter-spacing="-0.05">XAtYMin</text>
</g>
<g font-size="13">
<text x="406" y="239">dB(S(1,1))</text>
<text x="368" y="255.6" letter-spacing="0.05">Bluetooth : 1_4GHz</text>
<text transform="translate(515.2,247) scale(1,1.1)" text-anchor="middle">-49.4422</text>
<text transform="translate(576.6,247) scale(1,1.1)" text-anchor="middle">2.4400</text>
</g>
</svg>
</body></html>
